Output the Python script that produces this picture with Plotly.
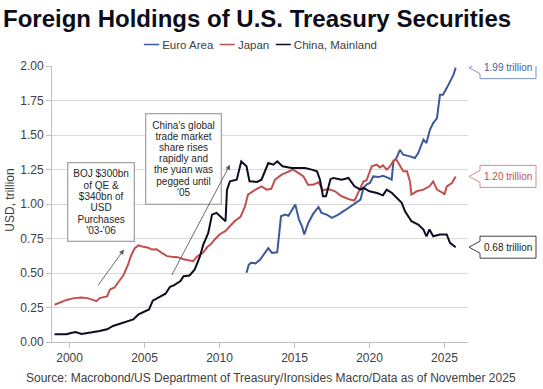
import plotly.graph_objects as go

# ---------------- data (decimal years, USD trillion) ----------------
euro_x = [2011.8, 2011.95, 2012.1, 2012.4, 2012.7, 2013.0, 2013.25, 2013.5, 2013.85, 2014.1,
          2014.37, 2014.6, 2014.8, 2015.05, 2015.3, 2015.5, 2015.65, 2015.92, 2016.25, 2016.6,
          2016.8, 2017.15, 2017.5, 2017.92, 2018.37, 2018.8, 2019.2, 2019.4, 2019.6, 2019.8,
          2020.03, 2020.25, 2020.6, 2020.9, 2021.25, 2021.48, 2021.6, 2021.8, 2022.03, 2022.25,
          2022.7, 2023.03, 2023.25, 2023.6, 2023.8, 2024.03, 2024.25, 2024.5, 2024.7, 2024.9,
          2025.15, 2025.37, 2025.6, 2025.75]
euro_y = [0.502, 0.560, 0.574, 0.570, 0.595, 0.646, 0.680, 0.646, 0.650, 0.911,
          0.923, 0.915, 0.947, 0.996, 0.887, 0.839, 0.779, 0.863, 0.930, 0.978,
          0.936, 0.923, 0.900, 0.923, 0.955, 0.985, 1.015, 1.032, 1.116, 1.140,
          1.152, 1.200, 1.195, 1.205, 1.189, 1.176, 1.309, 1.333, 1.393, 1.357,
          1.345, 1.333, 1.369, 1.466, 1.442, 1.538, 1.586, 1.622, 1.791, 1.791,
          1.840, 1.887, 1.936, 1.988]

japan_x = [1999.0, 1999.4, 1999.8, 2000.3, 2000.8, 2001.2, 2001.5, 2001.8, 2002.0, 2002.3,
           2002.5, 2002.7, 2003.0, 2003.3, 2003.6, 2003.9, 2004.1, 2004.35, 2004.6, 2004.9,
           2005.2, 2005.5, 2005.8, 2006.1, 2006.5, 2006.8, 2007.2, 2007.6, 2007.9, 2008.25,
           2008.5, 2008.9, 2009.2, 2009.4, 2009.7, 2010.0, 2010.4, 2010.7, 2011.0, 2011.4,
           2011.7, 2011.9, 2012.1, 2012.4, 2012.8, 2013.15, 2013.45, 2013.7, 2014.15, 2014.6,
           2014.9, 2015.25, 2015.6, 2015.9, 2016.25, 2016.6, 2016.9, 2017.25, 2017.7, 2018.15,
           2018.7, 2019.0, 2019.3, 2019.6, 2019.8, 2020.15, 2020.5, 2020.7, 2020.9, 2021.15,
           2021.35, 2021.6, 2021.8, 2022.0, 2022.25, 2022.5, 2022.7, 2022.8, 2023.15, 2023.6,
           2024.0, 2024.25, 2024.5, 2024.9, 2025.0, 2025.15, 2025.5, 2025.75]
japan_y = [0.270, 0.285, 0.305, 0.318, 0.322, 0.318, 0.308, 0.296, 0.318, 0.322,
           0.330, 0.380, 0.395, 0.440, 0.485, 0.560, 0.625, 0.680, 0.700, 0.690,
           0.685, 0.670, 0.672, 0.650, 0.622, 0.618, 0.615, 0.600, 0.592, 0.586,
           0.620, 0.646, 0.690, 0.706, 0.745, 0.779, 0.805, 0.839, 0.875, 0.907,
           0.983, 1.068, 1.085, 1.104, 1.128, 1.104, 1.110, 1.176, 1.213, 1.237,
           1.249, 1.225, 1.200, 1.140, 1.140, 1.157, 1.099, 1.109, 1.092, 1.056,
           1.032, 1.025, 1.100, 1.164, 1.170, 1.273, 1.285, 1.265, 1.280, 1.249,
           1.270, 1.314, 1.321, 1.285, 1.237, 1.237, 1.164, 1.068, 1.092, 1.104,
           1.128, 1.164, 1.104, 1.080, 1.068, 1.128, 1.152, 1.200]

china_x = [1999.0, 1999.8, 2000.1, 2000.4, 2000.8, 2001.2, 2001.5, 2002.0, 2002.5, 2002.9,
           2003.4, 2003.8, 2004.25, 2004.6, 2005.0, 2005.3, 2005.55, 2005.9, 2006.4, 2006.7,
           2006.95, 2007.4, 2007.6, 2008.0, 2008.35, 2008.7, 2008.92, 2009.25, 2009.5, 2009.8,
           2010.15, 2010.4, 2010.5, 2010.7, 2011.15, 2011.45, 2011.8, 2012.0, 2012.5, 2012.8,
           2013.25, 2013.6, 2013.85, 2014.2, 2014.8, 2015.25, 2015.7, 2016.15, 2016.5, 2016.7,
           2016.9, 2017.1, 2017.4, 2017.6, 2018.15, 2018.6, 2019.0, 2019.4, 2019.6, 2020.0,
           2020.5, 2020.9, 2021.15, 2021.5, 2021.8, 2022.15, 2022.37, 2022.8, 2023.25, 2023.6,
           2023.8, 2024.0, 2024.25, 2024.7, 2025.15, 2025.37, 2025.75]
china_y = [0.056, 0.056, 0.065, 0.072, 0.058, 0.062, 0.070, 0.080, 0.092, 0.116,
           0.135, 0.152, 0.164, 0.200, 0.220, 0.236, 0.300, 0.321, 0.350, 0.400,
           0.410, 0.441, 0.477, 0.482, 0.526, 0.622, 0.706, 0.791, 0.923, 0.936,
           0.900, 0.875, 1.104, 1.164, 1.176, 1.309, 1.273, 1.164, 1.160, 1.176,
           1.297, 1.285, 1.309, 1.273, 1.261, 1.261, 1.261, 1.249, 1.237, 1.176,
           1.056, 1.056, 1.180, 1.189, 1.176, 1.189, 1.128, 1.104, 1.116, 1.092,
           1.080, 1.063, 1.104, 1.080, 1.044, 1.008, 0.947, 0.875, 0.851, 0.815,
           0.766, 0.815, 0.766, 0.779, 0.779, 0.719, 0.687]

series_names = ["Euro Area", "Japan", "China, Mainland"]
series_colors = ["#3B5A9B", "#C0504D", "#0D0D1F"]
callout_text = ["1.99 trillion", "1.20 trillion", "0.68 trillion"]
callout_border = ["#7A93C4", "#D98C8A", "#404040"]
callout_font = ["#3F5E9E", "#C0504D", "#1A1A1A"]

x_ticks = [2000, 2005, 2010, 2015, 2020, 2025]
y_ticks = [0.0, 0.25, 0.5, 0.75, 1.0, 1.25, 1.5, 1.75, 2.0]

title_text = "Foreign Holdings of U.S. Treasury Securities"
y_title = "USD, trillion"
source_text = "Source: Macrobond/US Department of Treasury/Ironsides Macro/Data as of November 2025"
boj_note = ["BOJ $300bn", "of QE &", "$340bn of", "USD", "Purchases", "'03-'06"]
china_note = ["China's global", "trade market", "share rises", "rapidly and",
              "the yuan was", "pegged until", "'05"]

FONT = "Liberation Sans, Arial, sans-serif"
GREY = "#404040"

# plot area geometry (pixels)
L, R, T, B = 52, 75, 66, 46.5
PW = 543 - L - R
PH = 389 - T - B

fig = go.Figure()
xs = [euro_x, japan_x, china_x]
ys = [euro_y, japan_y, china_y]
for name, col, x, y in zip(series_names, series_colors, xs, ys):
    fig.add_trace(go.Scatter(x=x, y=y, mode="lines", name=name,
                             line=dict(color=col, width=2), showlegend=False,
                             hoverinfo="skip"))

annotations = []
shapes = []

# Legend as a compact text line
legend_parts = []
for name, col in zip(series_names, series_colors):
    legend_parts.append(
        f'<span style="color:{col};font-size:15px"><b>—</b></span> {name}')
annotations.append(dict(xref="paper", yref="paper", x=0.5, y=1 + 23 / PH,
                        xanchor="center", yanchor="middle", showarrow=False,
                        text="  ".join(legend_parts),
                        font=dict(family=FONT, size=11.5, color=GREY)))

# Right-hand value callouts
for x, y, txt, bc, fc in zip(xs, ys, callout_text, callout_border, callout_font):
    last = y[-1]
    shapes.append(dict(type="path", xref="paper", yref="y",
                       xsizemode="pixel", ysizemode="pixel",
                       xanchor=1, yanchor=last,
                       path="M1,0 L12,6 L12,11 L68,11 L68,-11 L12,-11 L12,-6 Z",
                       fillcolor="white", line=dict(color=bc, width=1)))
    annotations.append(dict(xref="paper", yref="y", x=1, y=last,
                            xanchor="center", yanchor="middle", xshift=40,
                            showarrow=False, text=txt,
                            font=dict(family=FONT, size=10, color=fc)))


def note_text(lines):
    return "<br>".join(f'<span style="font-size:10px">{l}</span>' for l in lines)


annotations.append(dict(xref="x", yref="y", x=2002.13, y=1.014,
                        xanchor="center", yanchor="middle", showarrow=False,
                        text=note_text(boj_note), align="center",
                        font=dict(family=FONT, size=8.7, color="#262626"),
                        bordercolor="#A6A6A6", borderwidth=1.3, borderpad=5,
                        bgcolor="white"))
annotations.append(dict(xref="x", yref="y", x=2007.57, y=1.328,
                        xanchor="center", yanchor="middle", showarrow=False,
                        text=note_text(china_note), align="center",
                        font=dict(family=FONT, size=8.5, color="#262626"),
                        bordercolor="#A6A6A6", borderwidth=1.3, borderpad=6,
                        bgcolor="white"))

# Arrows
for (tx, ty, hx, hy) in [(2001.83, 0.40, 2003.63, 0.67), (2006.77, 0.475, 2010.7, 1.285)]:
    annotations.append(dict(xref="x", yref="y", axref="x", ayref="y",
                            x=hx, y=hy, ax=tx, ay=ty, text="", showarrow=True,
                            arrowhead=2, arrowsize=1.1, arrowwidth=0.9,
                            arrowcolor="#595959"))

# Y-axis title
annotations.append(dict(xref="paper", yref="paper", x=(10 - L) / PW, y=0.512,
                        xanchor="center", yanchor="middle", showarrow=False,
                        textangle=-90, text=y_title,
                        font=dict(family=FONT, size=12, color=GREY)))

# Source
annotations.append(dict(xref="paper", yref="paper", x=(24 - L) / PW, y=-(378.3 - (T + PH)) / PH,
                        xanchor="left", yanchor="middle", showarrow=False,
                        text=source_text,
                        font=dict(family=FONT, size=12, color=GREY)))

fig.update_layout(
    width=543, height=389,
    margin=dict(l=L, r=R, t=T, b=B),
    paper_bgcolor="white", plot_bgcolor="white",
    title=dict(text=f"<b>{title_text}</b>", x=3 / 543, xanchor="left",
               xref="container", yref="container", y=1 - 19 / 389, yanchor="middle",
               font=dict(family=FONT, size=24, color="#0D0D1A")),
    font=dict(family=FONT, size=12, color=GREY),
    annotations=annotations,
    shapes=shapes,
    showlegend=False,
)

fig.update_xaxes(range=[1998.83, 2026.57], tickvals=x_ticks,
                 ticktext=[str(t) for t in x_ticks],
                 showgrid=False, zeroline=False, showline=True,
                 linecolor="#BFBFBF", linewidth=1, automargin=False,
                 ticks="outside", ticklen=5, tickcolor="#BFBFBF",
                 tickfont=dict(family=FONT, size=12, color=GREY))
fig.update_yaxes(range=[0, 2.0], tickvals=y_ticks,
                 ticktext=[f"{v:.2f}" for v in y_ticks],
                 showgrid=True, gridcolor="#D9D9D9", gridwidth=1,
                 zeroline=False, showline=True, linecolor="#BFBFBF", linewidth=1,
                 automargin=False,
                 ticks="outside", ticklen=5, tickcolor="#BFBFBF",
                 tickfont=dict(family=FONT, size=12, color=GREY))

fig.write_html("out.html",
               config={"displayModeBar": False, "staticPlot": True},
               post_script="document.body.style.margin='0';"
                           "document.body.style.overflow='hidden';")
